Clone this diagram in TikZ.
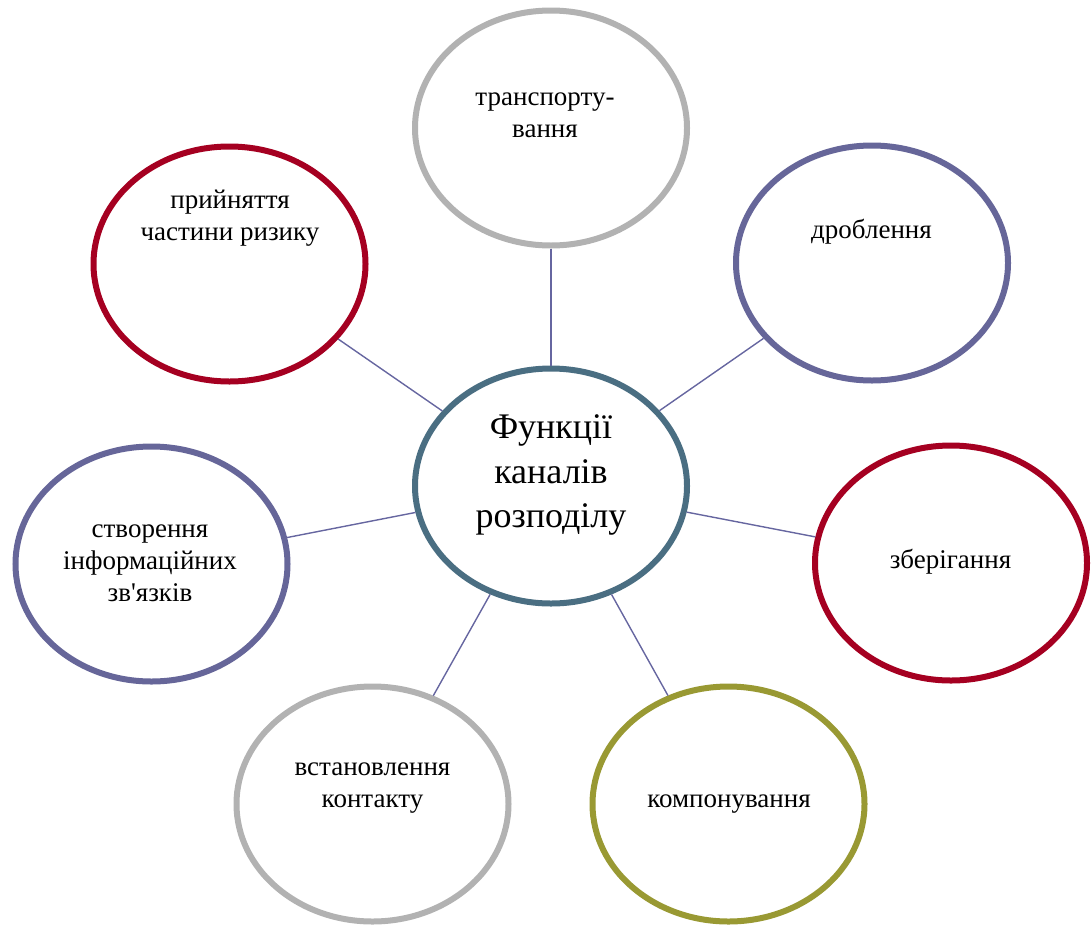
\documentclass[tikz,border=0pt]{standalone}
\usepackage{fontspec}
\setmainfont{Liberation Serif}[Ligatures=TeXOff]
\usetikzlibrary{shapes.geometric}
\definecolor{redcol}{RGB}{165,0,33}
\definecolor{violetcol}{RGB}{102,102,153}
\definecolor{greycol}{RGB}{178,178,178}
\definecolor{olivecol}{RGB}{153,153,51}
\definecolor{tealcol}{RGB}{74,110,130}
\definecolor{linkcol}{RGB}{102,102,160}

\begin{document}
\begin{tikzpicture}[x=1pt,y=-1pt,
  bubble/.style={ellipse,draw=#1,line width=6pt,fill=white,minimum width=272pt,minimum height=235pt,inner sep=0pt},
  txt/.style={font=\fontsize{27}{32}\selectfont,align=center,inner sep=0pt},
  link/.style={draw=linkcol,line width=1.4pt}]
\useasboundingbox (0,0) rectangle (1092,924);
% the ring of functions
\node[bubble=tealcol] (main) at (551,486) {};
\node[bubble=greycol] (trans) at (551,128) {};
\node[bubble=redcol] (risk) at (229.5,264) {};
\node[bubble=violetcol] (drob) at (872,263) {};
\node[bubble=violetcol] (info) at (151.5,564) {};
\node[bubble=redcol] (zber) at (951,563) {};
\node[bubble=greycol] (kont) at (372.5,804) {};
\node[bubble=olivecol] (komp) at (728.5,804) {};
% spokes
\foreach \n in {trans,risk,drob,info,zber,kont,komp}
  \draw[link] (main) -- (\n);
% labels
\node[txt,font=\fontsize{36}{44.5}\selectfont] (mainlbl) at (551,475) {Функції\\ каналів\\ розподілу};
\node[txt] (translbl) at (545,115) {транспорту-\\ вання};
\node[txt] (risklbl) at (230,218) {прийняття\\ частини ризику};
\node[txt] (droblbl) at (871.5,232) {дроблення};
\node[txt] (infolbl) at (150,563) {створення\\ інформаційних\\ зв'язків};
\node[txt] (zberlbl) at (950.5,562) {зберігання};
\node[txt] (kontlbl) at (372.5,788) {встановлення\\ контакту};
\node[txt] (komplbl) at (729,804) {компонування};
\end{tikzpicture}
\end{document}
